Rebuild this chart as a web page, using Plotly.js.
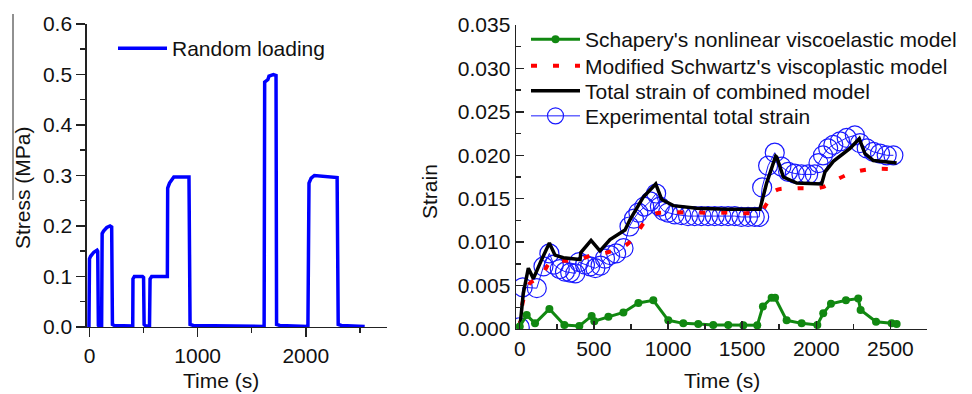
<!DOCTYPE html>
<html>
<head>
<meta charset="utf-8">
<script src="https://cdn.plot.ly/plotly-3.0.1.min.js"></script>
<style>html,body{margin:0;padding:0;background:#fff;}#chart{width:972px;height:394px;}</style>
</head>
<body>
<div id="chart"></div>
<script>
// ---- Left panel: random loading stress history ----
const stressTime = [-5,0,10,40,70,76,82,90,112,117,130,160,190,205,212,230,400,402,415,490,500,505,520,555,560,575,720,723,740,780,920,930,960,1300,1615,1620,1650,1660,1700,1725,1730,1760,2020,2030,2050,2080,2200,2290,2300,2330,2545];
const stressMPa  = [0,0.135,0.14,0.148,0.152,0.15,0.003,0.001,0.001,0.185,0.19,0.197,0.2,0.198,0.005,0.003,0.002,0.095,0.1,0.1,0.098,0.005,0.002,0.002,0.095,0.1,0.1,0.275,0.285,0.297,0.297,0.005,0.003,0.002,0.001,0.485,0.49,0.497,0.5,0.498,0.005,0.003,0.001,0.285,0.295,0.3,0.298,0.296,0.005,0.003,0.001];

// ---- Right panel: strain histories ----
const schaperyTime   = [0,47,103,200,301,402,485,503,598,699,800,901,1002,1103,1204,1305,1406,1508,1602,1640,1699,1722,1800,1901,2007,2047,2099,2200,2283,2299,2403,2508,2542];
const schaperyStrain = [0.0003,0.0016,0.00065,0.0023,0.00046,0.00035,0.0015,0.0009,0.0014,0.0019,0.0030,0.0033,0.0010,0.00065,0.00058,0.00046,0.00046,0.00042,0.00042,0.0026,0.0036,0.0036,0.0010,0.00065,0.00046,0.0018,0.0029,0.0033,0.0035,0.0022,0.00084,0.00065,0.00058];

const schwartzTime   = [0,13,36,65,143,195,215,385,485,610,720,785,845,900,980,1200,1400,1620,1665,1720,1870,2035,2125,2230,2360,2530];
const schwartzStrain = [0.0002,0.0024,0.0041,0.0052,0.0061,0.0075,0.0078,0.0079,0.0085,0.0089,0.0097,0.0109,0.0124,0.0132,0.0134,0.0134,0.0134,0.0135,0.0144,0.0159,0.0162,0.0163,0.0171,0.0179,0.0184,0.0184];

const totalTime   = [0,13,24,58,92,148,200,238,294,407,412,481,541,609,710,744,834,917,958,1036,1193,1400,1620,1665,1726,1733,1778,1868,2036,2059,2115,2227,2290,2328,2385,2542];
const totalStrain = [0,0.0026,0.0041,0.0070,0.0058,0.0080,0.0099,0.0085,0.0082,0.0080,0.0088,0.0102,0.0090,0.0103,0.0114,0.0126,0.0152,0.0167,0.0149,0.0142,0.0139,0.0138,0.0138,0.0168,0.0199,0.0198,0.0175,0.0168,0.0167,0.0181,0.0193,0.0208,0.0219,0.0202,0.0194,0.0191];

const expTime   = [0,20,115,160,200,230,270,305,340,375,400,440,475,510,545,575,610,650,700,740,770,800,840,880,920,945,970,1000,1045,1090,1135,1180,1225,1270,1315,1360,1405,1450,1495,1540,1585,1615,1635,1675,1720,1765,1810,1855,1900,1945,1990,2015,2045,2080,2115,2160,2205,2260,2295,2340,2385,2430,2475,2520];
const expStrain = [0.0002,0.0048,0.0047,0.0072,0.0087,0.0074,0.0069,0.0066,0.0065,0.0064,0.0077,0.0074,0.0072,0.0070,0.0073,0.0081,0.0085,0.0087,0.0093,0.0118,0.0127,0.0134,0.0141,0.0147,0.0156,0.0141,0.0136,0.0134,0.0132,0.0131,0.0130,0.0130,0.0130,0.0130,0.0130,0.0130,0.0130,0.0130,0.0129,0.0129,0.0129,0.0129,0.0163,0.0188,0.0203,0.0187,0.0181,0.0179,0.0178,0.0178,0.0178,0.0191,0.0200,0.0208,0.0212,0.0216,0.0220,0.0223,0.0214,0.0208,0.0204,0.0202,0.0200,0.0200];

const FONT = 'Liberation Sans, Arial, sans-serif';
const FS = 21;
const TXT = {family:FONT, size:FS, color:'#111'};

const traces = [
  {x: stressTime, y: stressMPa, xaxis:'x', yaxis:'y', mode:'lines', name:'Random loading',
   line:{color:'#0000ff', width:3.5}, legend:'legend'},
  {x: expTime, y: expStrain, xaxis:'x2', yaxis:'y2', mode:'lines+markers', name:'Experimental total strain',
   line:{color:'#1a1aff', width:1}, marker:{symbol:'circle-open', size:19, color:'#1a1aff', line:{width:1.2, color:'#1a1aff'}}, legend:'legend5'},
  {x: schwartzTime, y: schwartzStrain, xaxis:'x2', yaxis:'y2', mode:'lines', name:"Modified Schwartz's viscoplastic model",
   line:{color:'#ff0000', width:4, dash:'6px,16px', shape:'spline'}, legend:'legend3'},
  {x: totalTime, y: totalStrain, xaxis:'x2', yaxis:'y2', mode:'lines', name:'Total strain of combined model',
   line:{color:'#000000', width:3.5}, legend:'legend4'},
  {x: schaperyTime, y: schaperyStrain, xaxis:'x2', yaxis:'y2', mode:'lines+markers', name:"Schapery's nonlinear viscoelastic model",
   line:{color:'#118811', width:3}, marker:{color:'#118811', size:8}, legend:'legend2'}
];

const axBase = {
  showline:true, linecolor:'#222', linewidth:1.5, showgrid:false, zeroline:false,
  tickfont:TXT, tickcolor:'#222', tickwidth:1.5, automargin:false, fixedrange:true
};
function legendAt(xpx, ytopPx){
  return {x:xpx/972, y:(394-ytopPx)/394, xanchor:'left', yanchor:'top', bgcolor:'rgba(0,0,0,0)',
          borderwidth:0, font:TXT, itemwidth:49, tracegroupgap:0};
}

const layout = {
  width:972, height:394, margin:{l:0, r:0, t:0, b:0},
  paper_bgcolor:'#fff', plot_bgcolor:'#fff', font:TXT,
  xaxis: Object.assign({}, axBase, {domain:[0.0893,0.3980], range:[-25,2750], anchor:'y',
    tickvals:[0,1000,2000], ticktext:['0','1000','2000'], ticks:'outside', ticklen:9,
    minor:{dtick:500, tick0:0, ticks:'outside', ticklen:5, tickcolor:'#222', tickwidth:1.5}}),
  yaxis: Object.assign({}, axBase, {domain:[0.1701,0.9391], range:[0,0.6], anchor:'x',
    dtick:0.1, tickformat:'.1f', ticks:'outside', ticklen:9,
    minor:{dtick:0.05, ticks:'outside', ticklen:5, tickcolor:'#222', tickwidth:1.5}}),
  xaxis2: Object.assign({}, axBase, {domain:[0.5309,0.9542], range:[-25,2750], anchor:'y2',
    dtick:500, tick0:0, ticks:'inside', ticklen:8,
    minor:{dtick:250, tick0:0, ticks:'inside', ticklen:5, tickcolor:'#222', tickwidth:1.5}}),
  yaxis2: Object.assign({}, axBase, {domain:[0.1650,0.9365], range:[0,0.035], anchor:'x2',
    dtick:0.005, tickformat:'.3f', ticks:'inside', ticklen:8,
    minor:{dtick:0.0025, ticks:'inside', ticklen:5, tickcolor:'#222', tickwidth:1.5}}),
  legend: legendAt(113, 28),
  legend2: legendAt(526, 19),
  legend3: legendAt(526, 45.7),
  legend4: legendAt(526, 70.7),
  legend5: legendAt(526, 95.7),
  annotations:[
    {text:'Time (s)', xref:'paper', yref:'paper', x:221/972, y:(394-380)/394, xanchor:'center', yanchor:'middle', showarrow:false, font:TXT},
    {text:'Time (s)', xref:'paper', yref:'paper', x:722/972, y:(394-380)/394, xanchor:'center', yanchor:'middle', showarrow:false, font:TXT},
    {text:'Stress (MPa)', xref:'paper', yref:'paper', x:22/972, y:(394-188)/394, xanchor:'center', yanchor:'middle', textangle:-90, showarrow:false, font:TXT},
    {text:'Strain', xref:'paper', yref:'paper', x:429/972, y:(394-192)/394, xanchor:'center', yanchor:'middle', textangle:-90, showarrow:false, font:TXT}
  ],
  shapes:[
    {type:'line', xref:'paper', yref:'paper', x0:13/972, x1:13/972, y0:(394-200)/394, y1:(394-14)/394,
     line:{color:'#222', width:1}}
  ],
  showlegend:true
};

Plotly.newPlot('chart', traces, layout, {staticPlot:true, displayModeBar:false});
</script>
</body>
</html>
